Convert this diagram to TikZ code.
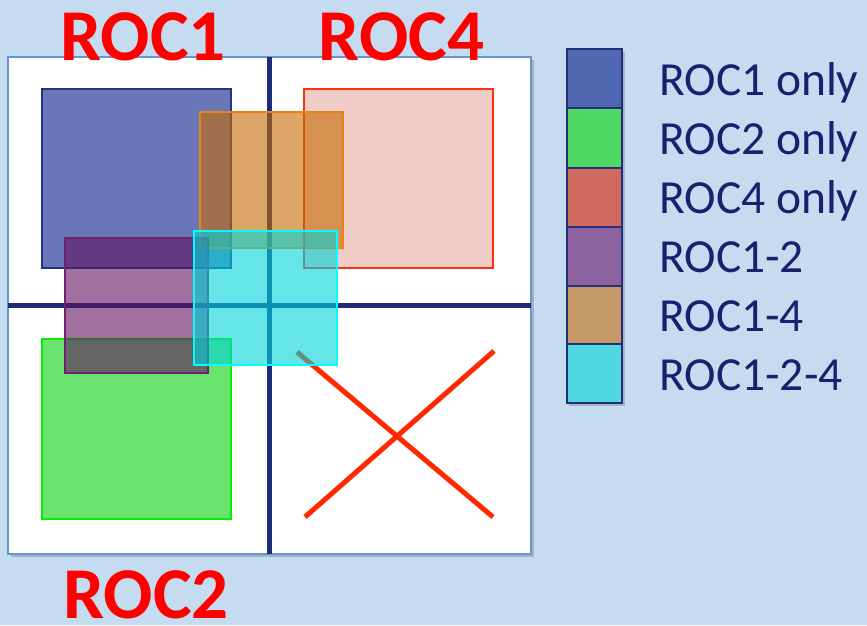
\documentclass[tikz,border=0pt]{standalone}
\usepackage{fontspec}
\newfontfamily\carlito{Carlito}
\definecolor{bg}{RGB}{197,219,240}
\definecolor{framecol}{RGB}{104,150,208}
\definecolor{divcol}{RGB}{31,42,122}
\definecolor{xred}{RGB}{255,40,0}
\definecolor{titlered}{RGB}{255,0,0}
\definecolor{legtextcol}{RGB}{26,32,110}
\definecolor{legnavy}{RGB}{35,45,120}
% region colours
\definecolor{bluebase}{RGB}{42,62,154}
\definecolor{blueline}{RGB}{40,50,130}
\definecolor{pinkbase}{RGB}{196,52,28}
\definecolor{pinkline}{RGB}{255,48,16}
\definecolor{orangebase}{RGB}{197,107,3}
\definecolor{orangeline}{RGB}{232,130,20}
\definecolor{greenbase}{RGB}{42,216,48}
\definecolor{greenline}{RGB}{0,240,0}
\definecolor{purplebase}{RGB}{97,17,97}
\definecolor{purpleline}{RGB}{112,32,112}
\definecolor{cyanbase}{RGB}{0,213,217}
\definecolor{cyanline}{RGB}{0,255,255}
% legend colours
\definecolor{lblue}{RGB}{80,104,178}
\definecolor{lgreen}{RGB}{80,216,100}
\definecolor{lred}{RGB}{208,106,94}
\definecolor{lpurple}{RGB}{141,100,160}
\definecolor{ltan}{RGB}{196,153,102}
\definecolor{lcyan}{RGB}{80,216,224}
\begin{document}
\begin{tikzpicture}[x=1pt,y=-1pt,
  region/.style={line width=2pt},
  divider/.style={draw=divcol, line width=5pt},
  xline/.style={draw=xred, line width=5pt},
  legbox/.style={draw=legnavy, line width=2pt},
  legtext/.style={anchor=base west, inner sep=0pt, text=legtextcol,
    font=\carlito\fontsize{47.5}{50}\selectfont},
  titletext/.style={anchor=base, inner sep=0pt, text=titlered,
    font=\carlito\bfseries\fontsize{73}{80}\selectfont},
  softshadow/.style={fill=black, fill opacity=0.18, draw=none}]
\useasboundingbox (0,0) rectangle (867,625);
\fill[bg] (0,0) rectangle (867,625);

% frame
\path[softshadow] (11,60) rectangle (534,557);
\draw[fill=white, draw=framecol, line width=2pt] (8,57) rectangle (531,554);
\draw[divider] (269,57) -- (269,554);
\draw[divider] (8,305) -- (531,305);

% X
\draw[xline] (297,352) -- (493,517);
\draw[xline] (305,517) -- (494,351);

% regions
\draw[region, draw=blueline, fill=bluebase, fill opacity=0.7] (42,89) rectangle (231,268);
\draw[region, draw=pinkline, fill=pinkbase, fill opacity=0.25] (304,89) rectangle (493,268);
\draw[region, draw=orangeline, fill=orangebase, fill opacity=0.6] (200,112) rectangle (343,248);
\draw[region, draw=greenline, fill=greenbase, fill opacity=0.7] (42,339) rectangle (231,519);
\draw[region, draw=purpleline, fill=purplebase, fill opacity=0.6] (65,238) rectangle (208,373);
\draw[region, draw=cyanline, fill=cyanbase, fill opacity=0.6] (194,231) rectangle (337,365);

% titles
\node[titletext] (t1) at (143,60) {ROC1};
\node[titletext] (t4) at (401.5,60) {ROC4};
\node[titletext] (t2) at (146,618) {ROC2};

% legend
\path[softshadow] (569,52) rectangle (625,406);
\draw[legbox, fill=lblue]   (567,49)  rectangle (622,108);
\draw[legbox, fill=lgreen]  (567,108) rectangle (622,168);
\draw[legbox, fill=lred]    (567,168) rectangle (622,227);
\draw[legbox, fill=lpurple] (567,227) rectangle (622,286);
\draw[legbox, fill=ltan]    (567,286) rectangle (622,344);
\draw[legbox, fill=lcyan]   (567,344) rectangle (622,403);

\node[legtext] (l1) at (659,95)  {ROC1 only};
\node[legtext] (l2) at (659,154) {ROC2 only};
\node[legtext] (l3) at (659,213) {ROC4 only};
\node[legtext] (l4) at (659,272) {ROC1-2};
\node[legtext] (l5) at (659,331) {ROC1-4};
\node[legtext] (l6) at (659,390) {ROC1-2-4};
\end{tikzpicture}
\end{document}
